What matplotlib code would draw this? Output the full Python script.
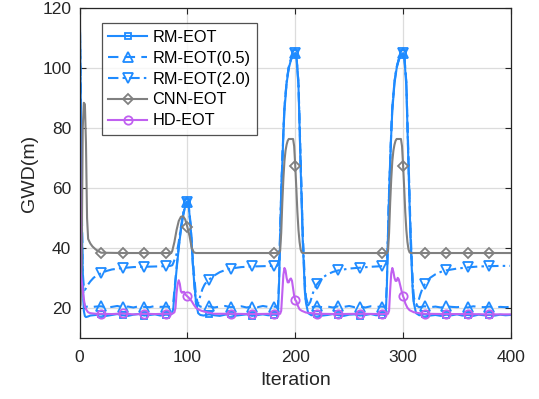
import matplotlib
matplotlib.use("Agg")
import matplotlib.pyplot as plt

# ---------------- data ----------------
rm_x = [0,1,2,3,4,5,6,8,10,15,20,25,30,35,40,45,50,55,60,65,70,75,80,84,86,87,88,90,92,94,96,98,100,101,103,105,106,108,110,112,115,
        120,125,130,135,140,145,150,155,160,165,170,175,180,183,184,185,186,187,188,189,190,192,194,196,198,200,201,203,205,207,209,210,212,215,
        220,225,230,235,240,245,250,255,260,265,270,275,280,283,284,285,286,287,288,289,290,292,294,296,298,300,301,303,305,307,309,310,312,315,
        320,325,330,335,340,345,350,355,360,365,370,375,380,385,390,395,399]
rm_y = [128,95,55,28,19,17.2,16.9,17.1,17.4,17.6,17.8,17.3,17.6,17.9,17.5,17.3,17.7,17.9,17.4,17.6,17.8,17.4,17.7,17.6,18.2,20,25,32.8,40,46,50.5,54,55.5,55,47,35,30,21.7,18.2,17.6,17.4,
        17.8,17.5,17.3,17.7,17.9,17.4,17.6,17.8,17.3,17.6,17.8,17.5,17.7,17.6,18.2,28,43,58,68,78,86,95,100,102.8,104.3,105,104.5,94,67,42,25,21.5,18.2,17.5,
        17.8,17.4,17.6,17.9,17.5,17.3,17.7,17.8,17.4,17.6,17.9,17.5,17.7,17.6,18.2,28,43,58,68,78,86,95,100,102.8,104.3,105,104.5,94,67,42,25,21.5,18.2,17.5,
        17.8,17.4,17.6,17.3,17.7,17.5,17.8,17.4,17.6,17.3,17.7,17.5,17.6,17.4,17.7,17.5,17.6]

rm05_x = [0,1,2,3,4,5,6,8,10,15,20,25,30,35,40,45,50,55,60,65,70,75,80,84,86,87,88,90,92,94,96,98,100,101,103,105,106,108,110,112,115,
          120,125,130,135,140,145,150,155,160,165,170,175,180,183,184,185,186,187,188,189,190,192,194,196,198,200,201,203,205,207,209,210,212,215,
          220,225,230,235,240,245,250,255,260,265,270,275,280,283,284,285,286,287,288,289,290,292,294,296,298,300,301,303,305,307,309,310,312,315,
          320,325,330,335,340,345,350,355,360,365,370,375,380,385,390,395,399]
rm05_y = [128,96,58,30,22,20.6,20.3,20.5,20.2,20.4,20.5,20.1,20.3,20.6,20.2,20.4,20.1,20.5,20.3,20.2,20.6,20.3,20.4,20.3,20.8,22,26,33.5,40.5,46.5,51,54.3,55.5,55.2,48,37,32,24,21,20.4,20.2,
          20.5,20.1,20.4,20.6,20.2,20.3,20.5,20.1,20.4,20.2,20.6,20.3,20.4,20.3,20.8,29,44,59,69,79,87,95.5,100.5,103,104.5,105,104.8,95.5,70,45,28,23.5,20.8,20.2,
          20.5,20.2,20.4,20.1,20.5,20.3,20.6,20.2,20.4,20.1,20.5,20.3,20.4,20.3,20.8,29,44,59,69,79,87,95.5,100.5,103,104.5,105,104.8,95.5,70,45,28,23.5,20.8,20.2,
          20.5,20.2,20.4,20.1,20.5,20.3,20.2,20.4,20.1,20.5,20.3,20.2,20.4,20.1,20.3,20.2,20.3]

rm20_x = [0,1,2,3,4,5,6,8,10,13,16,20,25,30,40,50,60,70,80,84,86,87,88,90,92,94,96,98,100,101,103,105,107,108,109,110,112,114,116,118,120,125,130,135,140,150,160,170,180,
          183,184,185,186,187,188,189,190,192,194,196,198,200,201,203,205,207,209,210,212,214,216,218,220,225,230,235,240,250,260,270,280,
          283,284,285,286,287,288,289,290,292,294,296,298,300,301,303,305,307,309,310,312,314,316,318,320,325,330,335,340,350,360,370,380,390,399]
rm20_y = [128,90,50,32,27,26,26.5,27.8,28.8,30,30.8,31.5,32.3,32.8,33.3,33.6,33.7,33.8,33.9,34,34.2,35,36,38,42,47,51.5,54.5,55.5,55,47,35,25,21.5,20.5,21.5,24,26.3,27.8,28.7,29.4,30.8,31.9,32.6,33.1,33.6,33.8,33.9,34,
          34,34.2,36,45,59,69,79,87,95.5,100.5,103,104.5,105,104.8,95,68,43,26,21.5,20.8,22,24.5,26.5,27.8,30,31.2,32,32.5,33.1,33.4,33.7,33.9,
          34,34.2,36,45,59,69,79,87,95.5,100.5,103,104.5,105,104.8,95,68,43,26,21.5,20.8,22,24.5,26.5,27.8,30,31.2,32,32.5,33.1,33.5,33.8,33.9,34,34]

cnn_x = [0,1,2,3,4,5,6,7,8,10,12,15,18,20,40,60,80,85,86,88,90,92,94,96,98,100,102,104,106,108,
         180,185,186,187,188,189,190,191,192,193,194,198,199,200,201,202,203,204,205,206,207,
         280,285,286,287,288,289,290,291,292,293,294,298,299,300,301,302,303,304,305,306,307,320,340,360,380,399]
cnn_y = [20,21,35,80,88.5,88,75,50,43,41.5,40.5,39.5,38.8,38.4,38.3,38.3,38.3,38.3,39,42,46,49,50.4,50.6,49.5,47,44,40,38.5,38.3,
         38.3,38.3,39,45,55,63,69,72.5,74.5,75.8,76.4,76.4,74,67.5,60,52,46,42,39.5,38.5,38.3,
         38.3,38.3,39,45,55,63,69,72.5,74.5,75.8,76.4,76.4,74,67.5,60,52,46,42,39.5,38.5,38.3,38.3,38.3,38.3,38.3,38.3]

hd_x = [0,1,2,3,4,5,6,7,8,10,15,20,30,40,50,60,70,80,86,88,89,90,91,92,93,94,95,96,97,98,100,101,102,104,106,108,110,113,118,125,140,160,180,
        186,187,188,189,190,191,192,193,194,195,196,197,198,199,200,201,202,204,206,210,215,220,240,260,280,
        286,287,288,289,290,291,292,293,294,295,296,297,298,299,300,301,302,304,306,310,315,320,340,360,380,399]
hd_y = [135,32,29,26,23,20.5,19.5,19,18.5,18.2,18,18,17.9,18.1,17.8,18,17.9,18,18,18.5,20,25,28,29.2,28,25.5,25,25.3,25.3,24.5,23.8,23.5,23,22.2,21,20,19.5,19,18.5,18,18,17.9,18,
        18,19,25,31,33.3,32.5,30,28.5,28.5,29.5,29.8,29,26.5,24,22.6,22.2,21,19.5,19,18.4,18.2,18,17.9,18,17.9,
        18,19,26,31.5,33.3,32,30,29,29,30,29.5,28,26.5,25,23.8,23,21.5,20,19.2,18.5,18.2,18,17.9,17.9,17.8,17.8]

series_labels = ["RM-EOT", "RM-EOT(0.5)", "RM-EOT(2.0)", "CNN-EOT", "HD-EOT"]
x_ticks = [0, 100, 200, 300, 400]
y_ticks = [20, 40, 60, 80, 100, 120]

# ---------------- styling ----------------
plt.rcParams['font.family'] = ['Liberation Sans', 'DejaVu Sans']
blue = '#1f8bff'
gray = '#808080'
purple = '#c060f0'

fig = plt.figure(figsize=(5.39, 3.99), dpi=100)
ax = fig.add_axes([0.1475, 0.1536, 0.948 - 0.1475, 0.9787 - 0.1536])

def marks(xs):
    return [i for i, v in enumerate(xs) if v % 20 == 0 and 0 < v < 400]

lw = 1.5
ax.plot(rm_x, rm_y, '-', color=blue, lw=lw, marker='s', ms=5, mfc='none', mew=1.3,
        markevery=marks(rm_x), label=series_labels[0])
ax.plot(rm05_x, rm05_y, color=blue, lw=lw, dashes=(5, 3), marker='^', ms=7, mfc='none', mew=1.3,
        markevery=marks(rm05_x), label=series_labels[1])
ax.plot(rm20_x, rm20_y, color=blue, lw=lw, dashes=(5, 2, 1.2, 2), marker='v', ms=7, mfc='none', mew=1.3,
        markevery=marks(rm20_x), label=series_labels[2])
ax.plot(cnn_x, cnn_y, '-', color=gray, lw=lw, marker='D', ms=5.5, mfc='none', mew=1.3,
        markevery=marks(cnn_x), label=series_labels[3])
ax.plot(hd_x, hd_y, '-', color=purple, lw=lw, marker='o', ms=6, mfc='none', mew=1.3,
        markevery=marks(hd_x), label=series_labels[4])

ax.set_xlim(0, 400)
ax.set_ylim(10, 120)
ax.set_xticks(x_ticks)
ax.set_yticks(y_ticks)
ax.grid(True, color='#dcdcdc', lw=0.9)
ax.set_axisbelow(True)
for s in ax.spines.values():
    s.set_color('#262626')
    s.set_linewidth(0.9)
ax.tick_params(direction='in', top=True, right=True, length=4, width=0.8,
               labelsize=12.5, colors='#262626')
ax.tick_params(axis='x', pad=9)
ax.tick_params(axis='y', pad=6)
ax.set_xlabel('Iteration', fontsize=14, color='#262626', labelpad=5)
ax.set_ylabel('GWD(m)', fontsize=14, color='#262626', labelpad=3)

leg = ax.legend(loc='upper left', bbox_to_anchor=(0.052, 0.955), fontsize=11.7,
                handlelength=2.4, handletextpad=0.3, borderpad=0.4, labelspacing=0.36,
                frameon=True, fancybox=False, edgecolor='#262626', borderaxespad=0)
leg.get_frame().set_linewidth(0.9)

fig.savefig('out.png', dpi=100)
